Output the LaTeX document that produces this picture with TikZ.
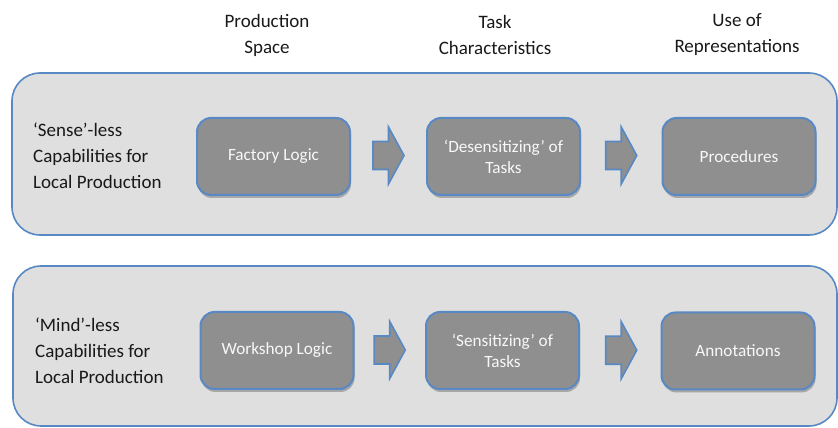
\documentclass[tikz,border=0pt]{standalone}
\usepackage{fontspec}
\setmainfont{Carlito}
\usetikzlibrary{shadows,calc}

\definecolor{frameblue}{RGB}{88,137,196}
\definecolor{panelgray}{RGB}{223,223,223}
\definecolor{boxgray}{RGB}{143,143,143}
\definecolor{inktext}{RGB}{25,25,25}
\definecolor{boxtext}{RGB}{248,248,248}

\tikzset{
  panel/.style={draw=frameblue, fill=panelgray, line width=1.6pt, rounded corners=28pt},
  stagebox/.style={draw=frameblue, fill=boxgray, line width=2pt, rounded corners=14pt,
    minimum width=153pt, minimum height=77pt, align=center, text=boxtext,
    font=\fontsize{17.2}{21}\selectfont,
    drop shadow={shadow xshift=1pt, shadow yshift=-3pt, opacity=0.25, fill=black}},
  header/.style={align=center, text=inktext, font=\fontsize{19}{26}\selectfont},
  rowlabel/.style={align=left, anchor=west, inner xsep=0pt, text=inktext,
    font=\fontsize{19}{26}\selectfont},
  flowarrow/.style={draw=frameblue, fill=boxgray, line width=1.6pt, line join=miter},
  pics/blockarrow/.style={code={
    \draw[flowarrow] (-15.5,-14) -- (0,-14) -- (0,-28.5) -- (15.5,0)
      -- (0,28.5) -- (0,14) -- (-15.5,14) -- cycle;}}
}

\begin{document}
\begin{tikzpicture}[x=1pt,y=1pt]
  \useasboundingbox (0,0) rectangle (838,428);

  % column headings
  \node[header] (hspace) at (267,393) {Production\\Space};
  \node[header] (htask) at (495,393) {Task\\Characteristics};
  \node[header] (hrep) at (737,393) {Use of\\Representations};

  % background panels
  \draw[panel] (12,193) rectangle (837,355);
  \draw[panel] (13,2) rectangle (837,162);

  % row descriptions
  \node[rowlabel] (senseless) at (33,272) {‘Sense’-less\\Capabilities for\\Local Production};
  \node[rowlabel] (mindless) at (35,77) {‘Mind’-less\\Capabilities for\\Local Production};

  % upper row stages
  \node[stagebox] (factory) at (273.5,271.5) {Factory Logic};
  \node[stagebox] (desens) at (503.5,271.5) {‘Desensitizing’ of\\Tasks};
  \node[stagebox] (proc) at (739,271.5) {Procedures};

  % lower row stages
  \node[stagebox] (workshop) at (277,77.5) {Workshop Logic};
  \node[stagebox] (sens) at (502.5,77.5) {‘Sensitizing’ of\\Tasks};
  \node[stagebox] (annot) at (738,77) {Annotations};

  % block arrows between stages
  \pic at ($(factory.east)!0.5!(desens.west)+(0,1)$) {blockarrow};
  \pic at ($(desens.east)!0.5!(proc.west)+(0,1)$) {blockarrow};
  \pic at ($(workshop.east)!0.5!(sens.west)+(0,0.5)$) {blockarrow};
  \pic at ($(sens.east)!0.5!(annot.west)+(1,0.5)$) {blockarrow};
\end{tikzpicture}
\end{document}
